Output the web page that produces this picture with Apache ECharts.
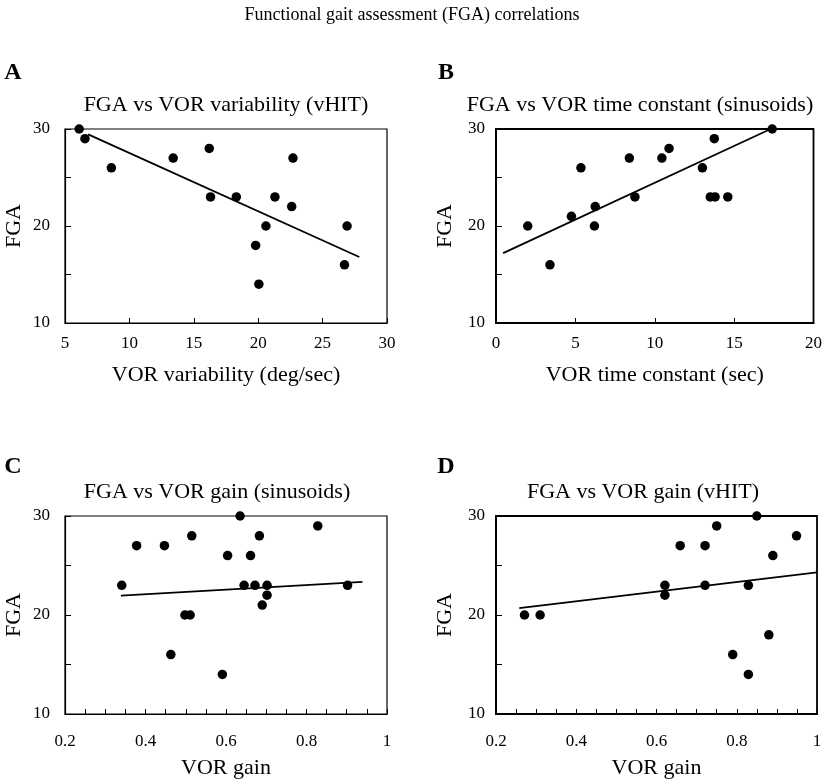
<!DOCTYPE html>
<html><head><meta charset="utf-8">
<script src="https://cdn.jsdelivr.net/npm/echarts@6/dist/echarts.min.js"></script>
<style>html,body{margin:0;padding:0;background:#fff}#c{width:825px;height:782px}</style>
</head><body><div id="c"></div>
<script>
// Panel A: FGA vs VOR variability (vHIT)
const aX = [6.1, 6.55, 8.6, 13.4, 16.2, 16.3, 18.3, 21.3, 22.7, 22.6, 20.6, 19.8, 20.05, 26.9, 26.7];
const aY = [30, 29, 26, 27, 28, 23, 23, 23, 27, 22, 20, 18, 14, 20, 16];
const aFitX = [6.8, 27.85];
const aFitY = [29.45, 16.8];
// Panel B: FGA vs VOR time constant (sinusoids)
const bX = [2.0, 3.4, 4.75, 5.35, 6.25, 6.2, 8.4, 8.75, 10.45, 10.9, 13.0, 13.75, 13.5, 13.8, 14.6, 17.4];
const bY = [20, 16, 21, 26, 22, 20, 27, 23, 27, 28, 26, 29, 23, 23, 23, 30];
const bFitX = [0.45, 17.3];
const bFitY = [17.2, 30];
// Panel C: FGA vs VOR gain (sinusoids)
const cX = [0.341, 0.378, 0.447, 0.515, 0.463, 0.498, 0.511, 0.591, 0.604, 0.635, 0.661, 0.683, 0.645, 0.672, 0.702, 0.702, 0.69, 0.828, 0.902];
const cY = [23, 27, 27, 28, 16, 20, 20, 14, 26, 30, 26, 28, 23, 23, 23, 22, 21, 29, 23];
const cFitX = [0.339, 0.939];
const cFitY = [21.95, 23.35];
// Panel D: FGA vs VOR gain (vHIT)
const dX = [0.271, 0.310, 0.621, 0.621, 0.659, 0.721, 0.721, 0.750, 0.790, 0.829, 0.829, 0.850, 0.880, 0.890, 0.949];
const dY = [20, 20, 23, 22, 27, 27, 23, 29, 16, 23, 14, 30, 18, 26, 28];
const dFitX = [0.258, 1.0];
const dFitY = [20.7, 24.3];

const mainTitle = 'Functional gait assessment (FGA) correlations';
const panelLetters = ['A', 'B', 'C', 'D'];
const panelTitles = ['FGA vs VOR variability (vHIT)', 'FGA vs VOR time constant (sinusoids)', 'FGA vs VOR gain (sinusoids)', 'FGA vs VOR gain (vHIT)'];
const xNames = ['VOR variability (deg/sec)', 'VOR time constant (sec)', 'VOR gain', 'VOR gain'];
const yName = 'FGA';

const FONT = '"Liberation Serif", "Times New Roman", serif';
const zip = (xs, ys) => xs.map((x, i) => [x, ys[i]]);

const grids = [
  {left: 65, top: 129, width: 322, height: 194},
  {left: 496, top: 129, width: 321, height: 194},
  {left: 65, top: 516, width: 322, height: 198},
  {left: 496, top: 516, width: 321, height: 198}
];
const bw = [1.2, 1.8, 1.2, 1.8];
const gainFmt = v => { const r = Math.round(v * 100); return r % 20 === 0 ? String(r / 100) : ''; };
const xCfg = [
  {min: 5, max: 30, interval: 5, fmt: v => String(v), lm: 12, ng: 41},
  {min: 0, max: 20, interval: 5, fmt: v => String(v), lm: 12, ng: 41},
  {min: 0.2, max: 1, interval: 0.05, fmt: gainFmt, lm: 19, ng: 43},
  {min: 0.2, max: 1, interval: 0.05, fmt: gainFmt, lm: 19, ng: 43}
];
const yLm = [15, 11, 15, 11];

const xAxis = xCfg.map((c, i) => ({
  type: 'value', gridIndex: i, min: c.min, max: c.max, interval: c.interval,
  name: xNames[i], nameLocation: 'middle', nameGap: c.ng,
  nameTextStyle: {fontFamily: FONT, fontSize: 22, color: '#000'},
  axisLine: {show: true, onZero: false, lineStyle: {color: '#000', width: bw[i]}},
  axisTick: {show: true, inside: true, length: 5, lineStyle: {color: '#000', width: 1}},
  axisLabel: {formatter: c.fmt, fontFamily: FONT, fontSize: 17, color: '#000', margin: c.lm, showMinLabel: true, showMaxLabel: true},
  splitLine: {show: false}
}));
const yAxis = grids.map((g, i) => ({
  type: 'value', gridIndex: i, min: 10, max: 30, interval: 5,
  name: yName, nameLocation: 'middle', nameGap: 40, nameRotate: 90,
  nameTextStyle: {fontFamily: FONT, fontSize: 22, color: '#000'},
  axisLine: {show: true, onZero: false, lineStyle: {color: '#000', width: bw[i]}},
  axisTick: {show: true, inside: true, length: 6, lineStyle: {color: '#000', width: 1}},
  axisLabel: {formatter: v => (v % 10 === 0 ? String(v) : ''), fontFamily: FONT, fontSize: 17, color: '#000', margin: yLm[i]},
  splitLine: {show: false}
}));

const pts = [zip(aX, aY), zip(bX, bY), zip(cX, cY), zip(dX, dY)];
const fits = [zip(aFitX, aFitY), zip(bFitX, bFitY), zip(cFitX, cFitY), zip(dFitX, dFitY)];
const series = [];
for (let i = 0; i < 4; i++) {
  series.push({type: 'line', xAxisIndex: i, yAxisIndex: i, data: fits[i], symbol: 'none', clip: false,
    lineStyle: {color: '#000', width: 1.8, opacity: 1}, silent: true, z: 2});
  series.push({type: 'scatter', xAxisIndex: i, yAxisIndex: i, data: pts[i], symbol: 'circle', symbolSize: 9.5, clip: false,
    itemStyle: {color: '#000', opacity: 1}, z: 3});
}

const txt = (x, y, text, size, weight) => ({
  type: 'text', x: x, y: y, silent: true,
  style: {text: text, fill: '#000', font: (weight || 'normal') + ' ' + size + 'px ' + FONT,
    textAlign: 'center', textVerticalAlign: 'middle', align: 'center', verticalAlign: 'middle'}
});
const graphic = [
  txt(412, 15, mainTitle, 18),
  txt(13, 73, panelLetters[0], 24, 'bold'),
  txt(446, 73, panelLetters[1], 24, 'bold'),
  txt(13, 467, panelLetters[2], 24, 'bold'),
  txt(446, 467, panelLetters[3], 24, 'bold'),
  txt(226, 105, panelTitles[0], 22),
  txt(640, 105, panelTitles[1], 22),
  txt(217, 492, panelTitles[2], 22),
  txt(643, 492, panelTitles[3], 22)
];

const chart = echarts.init(document.getElementById('c'), null, {renderer: 'canvas'});
chart.setOption({
  animation: false,
  backgroundColor: '#fff',
  grid: grids.map((g, i) => Object.assign({show: true, borderColor: '#000', borderWidth: bw[i], backgroundColor: 'transparent'}, g)),
  xAxis: xAxis, yAxis: yAxis, series: series, graphic: graphic
});
</script></body></html>
